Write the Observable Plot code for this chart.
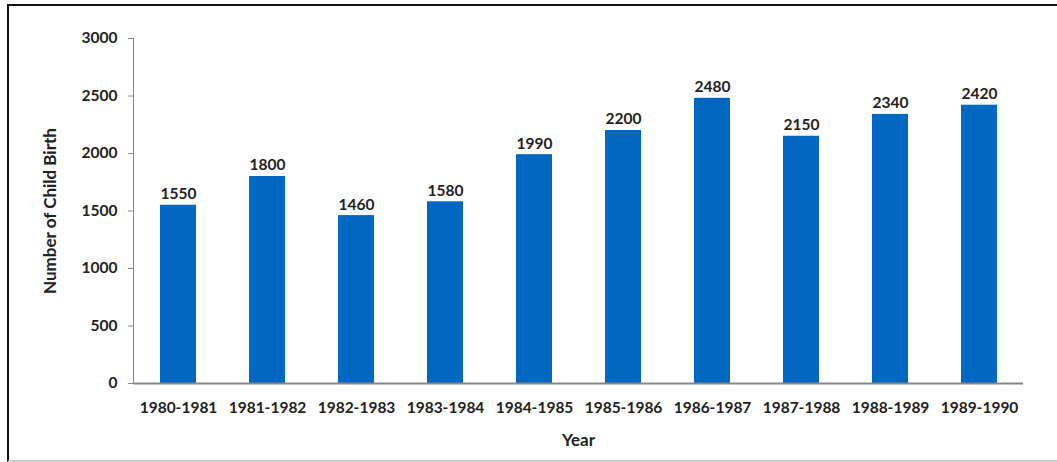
<!DOCTYPE html>
<html>
<head>
<meta charset="utf-8">
<script src="https://cdn.jsdelivr.net/npm/d3@7"></script>
<script src="https://cdn.jsdelivr.net/npm/@observablehq/plot@0.6"></script>
<style>
  html, body { margin: 0; padding: 0; background: #fff; }
  #wrap { position: relative; width: 1057px; height: 462px; overflow: hidden; }
  #frame { position: absolute; left: 7px; top: 4px; width: 1060px; height: 454px;
           border-left: 2px solid #111; border-top: 2px solid #111; border-bottom: 2px solid #ccc; }
  #chart { position: absolute; left: 0; top: 0; }
  #chart svg text { font-weight: bold; fill: #222; }
  #chart g[aria-label="y-axis label"] text, #chart g[aria-label="x-axis label"] text { font-size: 17px; }
</style>
</head>
<body>
<div id="wrap"><div id="frame"></div><div id="chart"></div></div>
<script>
const years = ["1980-1981","1981-1982","1982-1983","1983-1984","1984-1985","1985-1986","1986-1987","1987-1988","1988-1989","1989-1990"];
const births = [1550, 1800, 1460, 1580, 1990, 2200, 2480, 2150, 2340, 2420];
const yTicks = [0, 500, 1000, 1500, 2000, 2500, 3000];

const data = years.map((y, i) => ({year: y, value: births[i]}));

const chart = Plot.plot({
  width: 1057,
  height: 462,
  marginTop: 38,
  marginBottom: 79,
  marginLeft: 133,
  marginRight: 34,
  style: {fontFamily: "Lato, 'Open Sans', sans-serif", fontSize: "15.5px", background: "transparent", color: "#888"},
  x: {domain: years, paddingInner: 0.6, paddingOuter: 0.3, label: "Year", labelArrow: "none", labelAnchor: "center", labelOffset: 62, tickSize: 0, tickPadding: 18},
  y: {domain: [0, 3000], ticks: yTicks, tickFormat: d => String(d), label: "Number of Child Birth", labelArrow: "none", labelAnchor: "center", labelOffset: 90, tickSize: 5, tickPadding: 11, line: true},
  marks: [
    Plot.barY(data, {x: "year", y: "value", fill: "#0068c0"}),
    Plot.ruleY([0], {stroke: "#888", strokeWidth: 2}),
    Plot.text(data, {x: "year", y: "value", text: d => String(d.value), dy: -11, fontWeight: "bold", fill: "#222"})
  ]
});
document.getElementById("chart").appendChild(chart);
</script>
</body>
</html>
